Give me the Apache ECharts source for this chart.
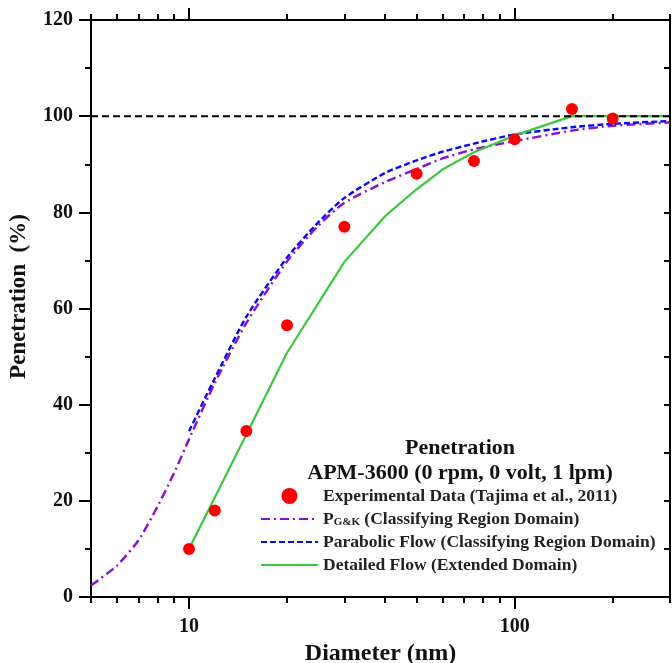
<!DOCTYPE html>
<html>
<head>
<meta charset="utf-8">
<script src="https://cdn.jsdelivr.net/npm/echarts@6/dist/echarts.min.js"></script>
<style>
html,body{margin:0;padding:0;background:#fff;}
#main{width:672px;height:663px;}
</style>
</head>
<body>
<div id="main"></div>
<script>
// experimental points (Tajima et al., 2011)
var expD = [10, 12, 15, 20, 30, 50, 75, 100, 150, 200];
var expP = [10, 18, 34.5, 56.5, 77, 88, 90.7, 95.2, 101.5, 99.5];
// P G&K, classifying region domain
var gkD = [5, 6, 7, 8, 9, 10, 12, 15, 20, 25, 30, 40, 50, 60, 75, 100, 150, 200, 300];
var gkP = [2.4, 6.5, 11.8, 18.8, 25.8, 32.8, 44.5, 57, 69.8, 77.3, 82, 86.3, 89, 91.2, 93.1, 94.8, 97, 98, 98.7];
// parabolic flow
var parD = [10, 12, 15, 20, 25, 30, 40, 50, 60, 75, 100, 150, 200, 300];
var parP = [34.5, 45.5, 58.3, 70.6, 78, 83, 88.2, 90.8, 92.6, 94.3, 96.2, 97.7, 98.4, 99];
// detailed flow (extended domain)
var detD = [10, 15, 20, 30, 40, 50, 60, 75, 100, 150, 200, 300];
var detP = [10, 33.8, 50.8, 69.7, 79.2, 84.8, 88.9, 92.5, 96, 100, 100, 100];
// 100 % reference
var refD = [5, 300];
var refP = [100, 100];

var majorTicks = [10, 100];
var minorTicks = [5, 6, 7, 8, 9, 10, 20, 30, 40, 50, 60, 70, 80, 90, 100, 200, 300];

var names = ['Experimental Data (Tajima et al., 2011)', 'PG&K (Classifying Region Domain)',
    'Parabolic Flow (Classifying Region Domain)', 'Detailed Flow (Extended Domain)'];

var serif = "'Liberation Serif', 'Times New Roman', serif";

function pairs(xs, ys){
    var out = [];
    for(var i=0;i<xs.length;i++){
        out.push([xs[i], ys[i]]);
    }
    return out;
}

function logAxis(pos, ticks, len, labels){
    return {
        type: 'log', logBase: 10, min: 5, max: 300, position: pos,
        axisLine: {show: true, lineStyle: {color: '#000', width: 2}},
        axisTick: {show: true, inside: false, length: len, customValues: ticks,
            lineStyle: {color: '#000', width: 2}},
        axisLabel: labels ? {show: true, customValues: majorTicks, margin: 20,
            color: '#111', fontFamily: serif, fontWeight: 'bold', fontSize: 20} : {show: false},
        minorTick: {show: false},
        splitLine: {show: false}
    };
}

var myChart = echarts.init(document.getElementById('main'));

var xMain = logAxis('bottom', majorTicks, 12, true);
xMain.name = 'Diameter (nm)';
xMain.nameLocation = 'middle';
xMain.nameGap = 41;
xMain.nameTextStyle = {color: '#111', fontFamily: serif, fontWeight: 'bold', fontSize: 24};

var noDot = {color: 'rgba(0,0,0,0)', borderWidth: 0, opacity: 0};

var option = {
    backgroundColor: '#fff',
    animation: false,
    grid: {left: 91, right: 2, top: 20, bottom: 66, outerBoundsMode: 'none', containLabel: false},
    xAxis: [
        xMain,
        logAxis('bottom', minorTicks, 6, false),
        logAxis('top', majorTicks, 12, false),
        logAxis('top', minorTicks, 6, false)
    ],
    yAxis: [
        {
            type: 'value', min: 0, max: 120, interval: 20, position: 'left',
            name: 'Penetration  (%)', nameLocation: 'middle', nameGap: 60,
            nameTextStyle: {color: '#111', fontFamily: serif, fontWeight: 'bold', fontSize: 23, padding: [0, 0, 0, 24]},
            axisLine: {show: true, lineStyle: {color: '#000', width: 2}},
            axisTick: {show: true, inside: false, length: 12, lineStyle: {color: '#000', width: 2}},
            minorTick: {show: true, splitNumber: 2, length: 6, lineStyle: {color: '#000', width: 2}},
            axisLabel: {margin: 18, color: '#111', fontFamily: serif, fontWeight: 'bold', fontSize: 20},
            splitLine: {show: false}
        },
        {
            type: 'value', min: 0, max: 120, interval: 10, position: 'right',
            axisLine: {show: true, lineStyle: {color: '#000', width: 2}},
            axisTick: {show: true, inside: true, length: 6, lineStyle: {color: '#000', width: 2}},
            axisLabel: {show: false},
            splitLine: {show: false}
        }
    ],
    legend: {
        orient: 'vertical', left: 260, top: 487, padding: 0,
        itemWidth: 57, itemHeight: 16, itemGap: 5,
        data: [
            {name: names[0]},
            {name: names[1], itemStyle: noDot},
            {name: names[2], itemStyle: noDot},
            {name: names[3], itemStyle: noDot}
        ],
        formatter: function(name){
            if(name === names[1]){
                return '{b|P}{s|G&K}{b| (Classifying Region Domain)}';
            }
            return '{b|' + name + '}';
        },
        textStyle: {
            color: '#222', fontFamily: serif, fontWeight: 'bold', fontSize: 17.5,
            rich: {
                b: {fontFamily: serif, fontWeight: 'bold', fontSize: 17.5, lineHeight: 18, color: '#222'},
                s: {fontFamily: serif, fontWeight: 'bold', fontSize: 11, lineHeight: 10, color: '#222', verticalAlign: 'bottom'}
            }
        }
    },
    graphic: [
        {type: 'text', x: 460, y: 448, style: {text: 'Penetration', align: 'center', verticalAlign: 'middle',
            font: 'bold 22px ' + serif, fill: '#111'}},
        {type: 'text', x: 460, y: 473, style: {text: 'APM-3600 (0 rpm, 0 volt, 1 lpm)', align: 'center', verticalAlign: 'middle',
            font: 'bold 22px ' + serif, fill: '#111'}}
    ],
    series: [
        {
            name: names[1], type: 'line', data: pairs(gkD, gkP), symbol: 'none', smooth: 0.2,
            lineStyle: {color: '#8a0fd6', width: 2.4, type: [9, 4, 2, 4]}, itemStyle: {color: '#8a0fd6'}, z: 3
        },
        {
            name: names[2], type: 'line', data: pairs(parD, parP), symbol: 'none', smooth: 0.2,
            lineStyle: {color: '#0a0af5', width: 2.4, type: [6, 3]}, itemStyle: {color: '#0a0af5'}, z: 4
        },
        {
            name: names[3], type: 'line', data: pairs(detD, detP), symbol: 'none',
            lineStyle: {color: '#3cc83c', width: 2.2}, itemStyle: {color: '#3cc83c'}, z: 5
        },
        {
            name: 'ref', type: 'line', data: pairs(refD, refP), symbol: 'none', silent: true,
            lineStyle: {color: '#000', width: 2, type: [7, 4]}, z: 6
        },
        {
            name: names[0], type: 'scatter', data: pairs(expD, expP), symbol: 'circle', symbolSize: 12,
            itemStyle: {color: '#ff0000', opacity: 1}, z: 7
        }
    ]
};
myChart.setOption(option);
</script>
</body>
</html>
